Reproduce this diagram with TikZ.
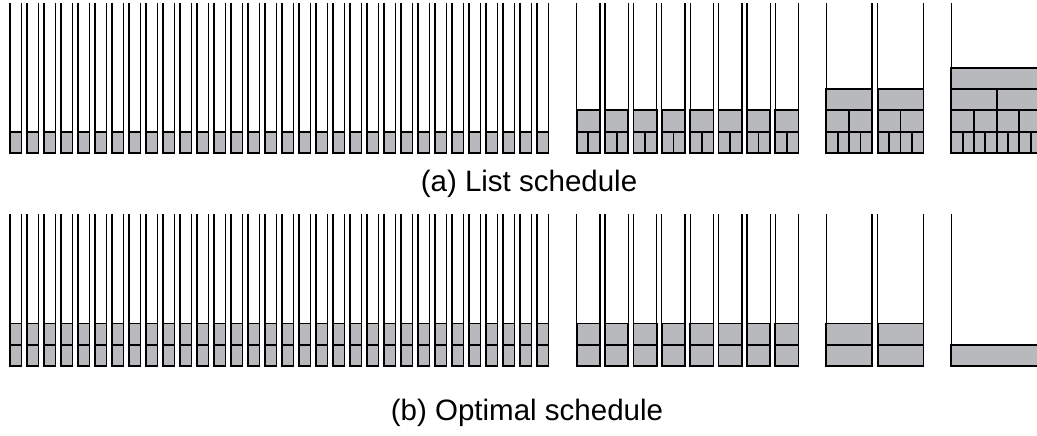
\documentclass[tikz,border=0pt]{standalone}
\usepackage{fontspec}
\setmainfont{Liberation Sans}
\definecolor{jobgray}{RGB}{184,185,189}

% one bin: two vertical walls  {left}{width}{top}{bottom}
\newcommand\drawbin[4]{%
  \draw[wall] ({#1},#3) -- ({#1},#4);
  \draw[wall] ({#1+#2},#3) -- ({#1+#2},#4);}
% one row of equal jobs inside a bin  {left}{width}{parts}{top}{bottom}
\newcommand\jobrow[5]{%
  \foreach \k in {1,...,#3}{%
    \draw[job] ({#1+(\k-1)*#2/#3},#4) rectangle ({#1+\k*#2/#3},#5);}}

\begin{document}
\begin{tikzpicture}[x=1pt,y=-1pt,
  wall/.style={line width=1.3pt,black},
  job/.style={draw=black,line width=1.8pt,fill=jobgray,line join=miter},
  caption/.style={font=\fontsize{29.5}{34}\selectfont,anchor=base,inner sep=0pt}]
\useasboundingbox (0,0) rectangle (1037,436);
\clip (0,0) rectangle (1037,436);

% ---------- list schedule ----------
\foreach \i in {0,...,31}{
  \pgfmathsetmacro\L{10+17*\i}
  \drawbin{\L}{11.5}{3}{153}
  \jobrow{\L}{11.5}{1}{131.7}{153}
}
\foreach \i in {0,...,7}{
  \pgfmathsetmacro\L{576.7+28.37*\i}
  \drawbin{\L}{23.3}{3}{153}
  \jobrow{\L}{23.3}{1}{110.4}{131.7}
  \jobrow{\L}{23.3}{2}{131.7}{153}
}
\foreach \i in {0,1}{
  \pgfmathsetmacro\L{826.3+51.4*\i}
  \drawbin{\L}{45.7}{3}{153}
  \jobrow{\L}{45.7}{1}{89.1}{110.4}
  \jobrow{\L}{45.7}{2}{110.4}{131.7}
  \jobrow{\L}{45.7}{4}{131.7}{153}
}
\drawbin{951.3}{90.7}{3}{153}
\jobrow{951.3}{90.7}{1}{67.8}{89.1}
\jobrow{951.3}{90.7}{2}{89.1}{110.4}
\jobrow{951.3}{90.7}{4}{110.4}{131.7}
\jobrow{951.3}{90.7}{8}{131.7}{153}

\node[caption] (capA) at (529,191.7) {(a) List schedule};

% ---------- optimal schedule ----------
\foreach \i in {0,...,31}{
  \pgfmathsetmacro\L{10+17*\i}
  \drawbin{\L}{11.5}{214}{366}
  \jobrow{\L}{11.5}{1}{323.4}{344.7}
  \jobrow{\L}{11.5}{1}{344.7}{366}
}
\foreach \i in {0,...,7}{
  \pgfmathsetmacro\L{576.7+28.37*\i}
  \drawbin{\L}{23.3}{214}{366}
  \jobrow{\L}{23.3}{1}{323.4}{344.7}
  \jobrow{\L}{23.3}{1}{344.7}{366}
}
\foreach \i in {0,1}{
  \pgfmathsetmacro\L{826.3+51.4*\i}
  \drawbin{\L}{45.7}{214}{366}
  \jobrow{\L}{45.7}{1}{323.4}{344.7}
  \jobrow{\L}{45.7}{1}{344.7}{366}
}
\drawbin{951.3}{90.7}{214}{366}
\jobrow{951.3}{90.7}{1}{344.7}{366}

\node[caption] (capB) at (527,420) {(b) Optimal schedule};
\end{tikzpicture}
\end{document}
